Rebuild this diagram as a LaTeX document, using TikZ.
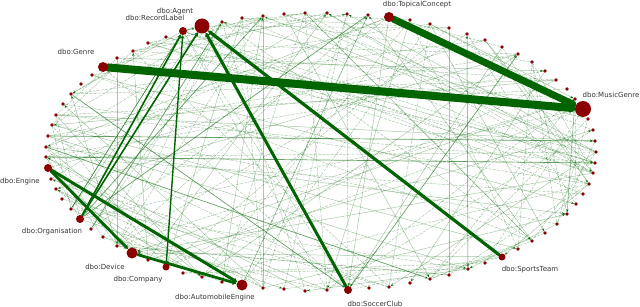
\documentclass[tikz,border=0pt]{standalone}
\usepackage{fontspec}
\setmainfont{DejaVu Sans}
\usetikzlibrary{arrows.meta,decorations.markings}
\definecolor{eg}{RGB}{0,100,0}
\definecolor{nr}{RGB}{139,0,0}
\pgfdeclarelayer{bg}
\pgfsetlayers{bg,main}
\tikzset{
  dot/.style={circle, fill=nr, draw=none, inner sep=0pt, minimum size=3.6pt},
  lbl/.style={font=\fontsize{7}{8}\selectfont, text=black!80, inner sep=0pt},
  faint/.style={draw=eg, draw opacity=.34, line width=.5pt},
  faintd/.style={faint, dash pattern=on 3pt off 1.2pt},
  tipped/.style={postaction={decorate, decoration={markings,
      mark=at position 1 with {\arrow[eg, opacity=.85]{Stealth[length=3pt,width=2.4pt]}}}}},
  mid/.style={draw=eg, draw opacity=.6, line width=.7pt, -{Stealth[length=3pt,width=2.6pt]}},
  light/.style={draw=eg, draw opacity=.35, line width=.6pt},
  heavy/.style={draw=eg, line cap=round},
}
\begin{document}
\begin{tikzpicture}[x=1pt,y=-1pt]
\useasboundingbox (0,0) rectangle (640,307);

% main nodes
\node[dot, minimum size=15pt, alias=p0]   (Agent)            at (202,26)  {};
\node[dot, minimum size=10pt, alias=p9]   (TopicalConcept)   at (389,17)  {};
\node[dot, minimum size=16pt, alias=p22]  (MusicGenre)       at (583,109) {};
\node[dot, minimum size=7pt,  alias=p37]  (SportsTeam)       at (502,257) {};
\node[dot, minimum size=8pt,  alias=p45]  (SoccerClub)       at (348,290) {};
\node[dot, minimum size=11pt, alias=p50]  (AutomobileEngine) at (242,285) {};
\node[dot, minimum size=7pt,  alias=p54]  (Company)          at (166,267) {};
\node[dot, minimum size=11pt, alias=p56]  (Device)           at (132,253) {};
\node[dot, minimum size=8pt,  alias=p60]  (Organisation)     at (80,219)  {};
\node[dot, minimum size=8pt,  alias=p65]  (Engine)           at (48,168)  {};
\node[dot, minimum size=10pt, alias=p75]  (Genre)            at (103,67)  {};
\node[dot, minimum size=8pt,  alias=p80]  (RecordLabel)      at (183,31)  {};

% small nodes on the ring
\foreach \i/\x/\y in {1/222/22, 2/242/18, 3/263/16, 4/284/14, 5/305/13, 6/327/13, 7/347/14, 8/368/15,
  10/410/20, 11/430/24, 12/449/28, 13/467/34, 14/485/40, 15/502/47, 16/518/54, 17/532/62, 18/545/71,
  19/556/80, 20/567/89, 21/575/99, 23/588/119, 24/593/130, 25/595/141, 26/596/152, 27/595/163,
  28/593/173, 29/589/184, 30/583/194, 31/576/204, 32/567/214, 33/557/224, 34/545/233, 35/532/241,
  36/518/249, 38/485/263, 39/468/269, 40/449/275, 41/430/279, 42/410/283, 43/389/287, 44/369/288,
  46/327/290, 47/305/291, 48/284/289, 49/263/288, 51/222/282, 52/202/277, 53/183/273, 55/148/260,
  57/117/246, 58/103/237, 59/91/229, 61/71/209, 62/62/199, 63/56/189, 64/51/179, 66/46/157,
  67/46/147, 68/48/136, 69/52/125, 70/56/115, 71/63/104, 72/71/94, 73/81/84, 74/92/75,
  76/117/58, 77/133/51, 78/148/43, 79/166/37}
  \node[dot] (p\i) at (\x,\y) {};

% labels
\node[lbl] (lAgent) at (175,12)  {dbo:Agent};
\node[lbl] (lRecordLabel) at (155,18) {dbo:RecordLabel};
\node[lbl] (lGenre) at (76,52) {dbo:Genre};
\node[lbl] (lTopicalConcept) at (417,5) {dbo:TopicalConcept};
\node[lbl] (lMusicGenre) at (611,95) {dbo:MusicGenre};
\node[lbl] (lEngine) at (20,182) {dbo:Engine};
\node[lbl] (lOrganisation) at (52,232) {dbo:Organisation};
\node[lbl] (lDevice) at (105,267) {dbo:Device};
\node[lbl] (lCompany) at (138,280) {dbo:Company};
\node[lbl] (lAutomobileEngine) at (215,298) {dbo:AutomobileEngine};
\node[lbl] (lSoccerClub) at (375,304) {dbo:SoccerClub};
\node[lbl] (lSportsTeam) at (530,270) {dbo:SportsTeam};

\begin{pgfonlayer}{bg}
  % faint background edges
  \pgfmathsetseed{4711}
  \foreach \k in {1,...,175}{
    \pgfmathtruncatemacro{\a}{random(0,80)}
    \pgfmathtruncatemacro{\d}{random(6,75)}
    \pgfmathtruncatemacro{\b}{mod(\a+\d,81)}
    \pgfmathtruncatemacro{\s}{random(0,2)}
    \ifnum\s=0
      \draw[faint,tipped] (p\a) -- (p\b);
    \else
      \draw[faintd] (p\a) -- (p\b);
    \fi
  }
  % medium edges
  \foreach \a/\b in {68/25, 66/27, 60/3, 45/16, 72/45, 67/41, 80/0, 60/8, 59/1, 61/80}
    \draw[mid] (p\a) -- (p\b);
  \foreach \a/\b in {12/40, 3/49}
    \draw[light] (p\a) -- (p\b);
  % heavy edges
  \draw[heavy, line width=8pt, -{Stealth[length=5pt,width=11pt]}] (Genre) -- (MusicGenre);
  \draw[heavy, line width=7pt, -{Stealth[length=5pt,width=10pt]}] (TopicalConcept) -- (MusicGenre);
  \draw[heavy, line width=3.2pt, -{Stealth[length=4pt,width=5.5pt]}] (SportsTeam) -- (Agent);
  \draw[heavy, line width=3pt, -{Stealth[length=4pt,width=5.5pt]}] (SoccerClub) -- (Agent);
  \draw[heavy, line width=3pt, -{Stealth[length=4pt,width=5.5pt]}] (Engine) -- (AutomobileEngine);
  \draw[heavy, line width=2.8pt, -{Stealth[length=4pt,width=5.5pt]}] (Engine) -- (Device);
  \draw[heavy, line width=2.8pt, -{Stealth[length=4pt,width=5.5pt]}] (Device) -- (AutomobileEngine);
  \draw[heavy, line width=1.6pt, -{Stealth[length=3.5pt,width=4pt]}] (Organisation) -- (RecordLabel);
  \draw[heavy, line width=1.6pt, -{Stealth[length=3.5pt,width=4pt]}] (Organisation) -- (Agent);
  \draw[heavy, line width=1.4pt, -{Stealth[length=3.5pt,width=4pt]}] (Company) -- (RecordLabel);
\end{pgfonlayer}
\end{tikzpicture}
\end{document}
